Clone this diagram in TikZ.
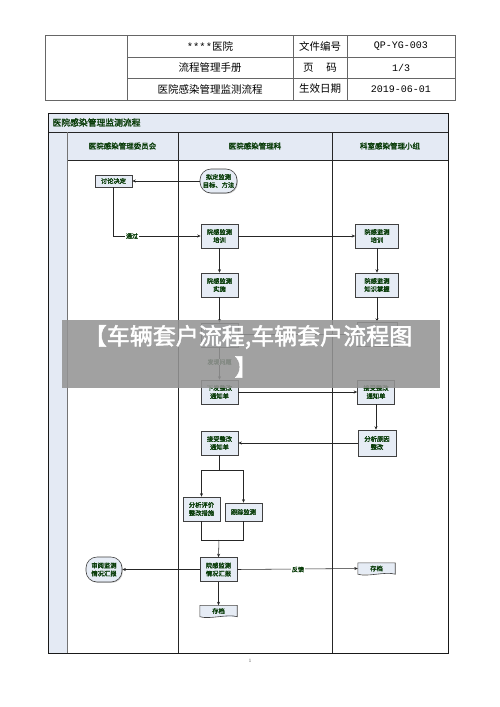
\documentclass[tikz,border=0pt]{standalone}
\usepackage{fontspec}
\newfontfamily\cjk{Noto Sans CJK SC}
\newfontfamily\cjkb[FakeBold=2]{Noto Sans CJK SC}
\newfontfamily\monof{Liberation Mono}
\usetikzlibrary{arrows.meta,shadows}
\definecolor{lanebg}{HTML}{E4EAF4}
\definecolor{boxbg}{HTML}{E6ECF5}
\definecolor{txtgreen}{HTML}{0A3D0A}
\newcommand\docpath[1]{\draw[draw=black!75, line width=0.6pt] (#1.north west) -- (#1.north east) -- (#1.south east) .. controls +(-10pt,3pt) and +(10pt,-3pt) .. (#1.south west) -- cycle;}
\begin{document}
\begin{tikzpicture}[x=1pt,y=-1pt,
  cell/.style={font=\cjk\fontsize{10.5}{12}\selectfont, text=black},
  monocell/.style={font=\monof\fontsize{10}{12}\selectfont, text=black},
  lanehead/.style={font=\cjkb\fontsize{7.5}{9}\selectfont, text=txtgreen},
  flowbox/.style={draw=black!75, fill=boxbg, line width=0.6pt, minimum width=37pt, minimum height=24pt, inner sep=0.5pt, align=center, font=\cjkb\fontsize{6.3}{8}\selectfont, text=txtgreen, drop shadow={shadow xshift=0.9pt,shadow yshift=-0.9pt, fill=black!35}},
  stadium/.style={flowbox, rounded corners=11pt},
  docbox/.style={fill=boxbg, draw=none, minimum width=37pt, minimum height=11pt, inner sep=0.5pt, font=\cjkb\fontsize{6.3}{8}\selectfont, text=txtgreen},
  lbl/.style={font=\cjkb\fontsize{6}{7}\selectfont, text=txtgreen, fill=white, inner sep=0.6pt},
  arr/.style={draw=black!85, line width=0.55pt, -{Stealth[length=3.5pt,width=3pt]}},
  ln/.style={draw=black!85, line width=0.55pt},
  bannertext/.style={font=\cjkb\fontsize{23}{26}\selectfont, text=white, inner sep=0pt}
]
\useasboundingbox (0,0) rectangle (500,707);
\fill[white] (0,0) rectangle (500,707);

% ---------- header table ----------
\draw[black!60, line width=0.6pt] (45,35) rectangle (455,100);
\draw[black!60, line width=0.6pt] (127,57) -- (455,57) (127,78) -- (455,78);
\draw[black!60, line width=0.6pt] (127,35) -- (127,100) (293,35) -- (293,100) (347,35) -- (347,100);
\node[cell] (h11) at (210,46) {{\monof ****}医院};
\node[cell] (h12) at (320,46) {文件编号};
\node[monocell] (h13) at (401,46) {QP-YG-003};
\node[cell] (h21) at (210,67.5) {流程管理手册};
\node[cell] (h22) at (320,67.5) {页\hspace{1.2em}码};
\node[monocell] (h23) at (401,67.5) {1/3};
\node[cell] (h31) at (210,89) {医院感染管理监测流程};
\node[cell] (h32) at (320,89) {生效日期};
\node[monocell] (h33) at (401,89) {2019-06-01};

% ---------- swimlane frame ----------
\fill[lanebg] (48,113) rectangle (448,160);
\fill[lanebg] (48,160) rectangle (67,653);
\draw[black!85, line width=0.6pt] (48,132) -- (448,132);
\draw[black!85, line width=0.6pt] (67,160) -- (448,160);
\draw[black!55, line width=0.9pt] (67,132) -- (67,653);
\draw[black!85, line width=0.7pt] (178,132) -- (178,653) (332,132) -- (332,653);
\draw[black!90, line width=0.9pt] (48,113) rectangle (448,653);
\node[font=\cjkb\fontsize{8.8}{10}\selectfont, text=txtgreen, anchor=west] (title) at (49,122.5) {医院感染管理监测流程};
\node[lanehead] (lane1) at (122.5,146) {医院感染管理委员会};
\node[lanehead] (lane2) at (255,146) {医院感染管理科};
\node[lanehead] (lane3) at (390,146) {科室感染管理小组};

% ---------- nodes ----------
\node[flowbox, minimum height=12pt] (discuss) at (113.5,181) {讨论决定};
\node[stadium] (plan) at (218.5,181) {拟定监测\\目标、方法};
\node[flowbox] (trainC) at (219.5,236) {院感监测\\培训};
\node[flowbox, minimum width=43pt] (trainR) at (377,236) {院感监测\\培训};
\node[flowbox] (implC) at (219.5,285) {院感监测\\实施};
\node[flowbox, minimum width=43pt] (knowR) at (377,285) {院感监测\\知识掌握};
\node[flowbox] (checkC) at (219.5,335) {};
\node[flowbox, minimum width=40pt] (checkR) at (377,334) {};
\node[flowbox] (issue) at (219.5,392) {下发整改\\通知单};
\node[flowbox] (recvR) at (376,392) {接受整改\\通知单};
\node[flowbox] (recvC) at (219.5,443) {接受整改\\通知单};
\node[flowbox, minimum width=38pt, minimum height=26pt] (analyze) at (377,443) {分析原因\\整改};
\node[flowbox] (evalC) at (201.5,509) {分析评价\\整改措施};
\node[flowbox, minimum height=18pt] (track) at (243.5,512) {跟踪监测};
\node[flowbox] (report) at (218.5,569.5) {院感监测\\情况汇报};
\node[stadium, minimum width=36pt, minimum height=25pt] (review) at (104,569.5) {审阅监测\\情况汇报};
\node[docbox] (archR) at (376.5,568.5) {存档};
\docpath{archR}
\node[docbox] (archC) at (218.5,611) {存档};
\docpath{archC}

% ---------- connectors ----------
\draw[arr] (plan.west) -- (discuss.east);
\coordinate (passc) at (113.5,236);
\draw[arr] (discuss.south) -- (passc) -- (trainC.west);
\node[lbl] (pass) at (132,236) {通过};
\draw[arr] (trainC.east) -- (trainR.west);
\draw[arr] (trainC.south) -- (implC.north);
\draw[arr] (trainR.south) -- (knowR.north);
\draw[arr] (implC.south) -- (checkC.north);
\draw[arr] (knowR.south) -- (checkR.north);
\draw[arr] (checkR.west) -- (checkC.east |- checkR.west);
\draw[arr] (checkC.south) -- (issue.north);
\node[lbl] (found) at (219.5,362) {发现问题};
\draw[arr] (issue.east) -- (recvR.west);
\draw[arr] (recvR.south) -- (recvR.south |- analyze.north);
\draw[arr] (analyze.west) -- (recvC.east);
\coordinate (split) at (219.5,470);
\draw[ln] (recvC.south) -- (split);
\draw[arr] (split) -| (evalC.north);
\draw[arr] (split) -| (track.north);
\coordinate (join) at (219,540);
\draw[ln] (evalC.south) |- (join);
\draw[ln] (track.south) |- (join);
\draw[arr] (join) -- (report.north);
\draw[arr] (report.west) -- (review.east);
\draw[arr] (report.east) -- (archR.west);
\node[lbl] (fb) at (298,569.5) {反馈};
\draw[arr] (report.south) -- (archC.north);

% ---------- page number ----------
\node[font=\fontsize{5}{6}\selectfont, text=black!60] (pg) at (250,661) {1};

% ---------- overlay banner ----------
\fill[black!42, fill opacity=0.88] (62,320) rectangle (440,388);
\node[bannertext] (ban1) at (248,337) {【车辆套户流程,车辆套户流程图};
\node[bannertext] (ban2) at (246,367) {】};
\end{tikzpicture}
\end{document}
